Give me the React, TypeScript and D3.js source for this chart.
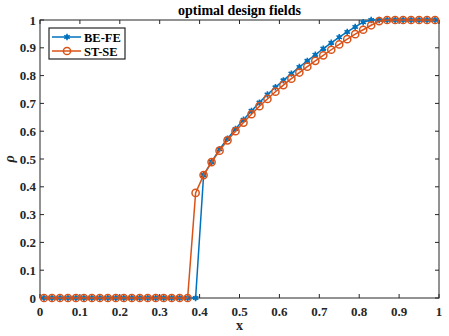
import * as d3 from "d3";

const xValues = [
  0.01, 0.03, 0.05, 0.07, 0.09, 0.11, 0.13, 0.15, 0.17, 0.19,
  0.21, 0.23, 0.25, 0.27, 0.29, 0.31, 0.33, 0.35, 0.37, 0.39,
  0.41, 0.43, 0.45, 0.47, 0.49, 0.51, 0.53, 0.55, 0.57, 0.59,
  0.61, 0.63, 0.65, 0.67, 0.69, 0.71, 0.73, 0.75, 0.77, 0.79,
  0.81, 0.83, 0.85, 0.87, 0.89, 0.91, 0.93, 0.95, 0.97, 0.99,
];

const beFe = [
  0, 0, 0, 0, 0, 0, 0, 0, 0, 0,
  0, 0, 0, 0, 0, 0, 0, 0, 0, 0,
  0.442, 0.49, 0.535, 0.573, 0.608, 0.641, 0.673, 0.703, 0.732, 0.758,
  0.783, 0.807, 0.831, 0.853, 0.875, 0.897, 0.918, 0.938, 0.957, 0.975,
  0.992, 1, 1, 1, 1, 1, 1, 1, 1, 1,
];

const stSe = [
  0, 0, 0, 0, 0, 0, 0, 0, 0, 0,
  0, 0, 0, 0, 0, 0, 0, 0, 0, 0.378,
  0.442, 0.489, 0.53, 0.567, 0.6, 0.631, 0.661, 0.69, 0.716, 0.742,
  0.766, 0.789, 0.811, 0.832, 0.853, 0.873, 0.893, 0.912, 0.931, 0.949,
  0.965, 0.981, 0.996, 1, 1, 1, 1, 1, 1, 1,
];

const xTicks = [0, 0.1, 0.2, 0.3, 0.4, 0.5, 0.6, 0.7, 0.8, 0.9, 1];
const yTicks = [0, 0.1, 0.2, 0.3, 0.4, 0.5, 0.6, 0.7, 0.8, 0.9, 1];

const series = [
  { name: "BE-FE", values: beFe, color: "#0072BD", marker: "star" },
  { name: "ST-SE", values: stSe, color: "#D95319", marker: "circle" },
];

const font = "'Liberation Serif', 'Times New Roman', serif";
const axisColor = "#262626";

function Marker({ kind, x, y, color }: { kind: string; x: number; y: number; color: string }) {
  if (kind === "circle") {
    return <circle cx={x} cy={y} r={3.6} fill="none" stroke={color} strokeWidth={1.5} />;
  }
  const path = d3.symbol(d3.symbolAsterisk, 28)();
  return (
    <g transform={`translate(${x},${y})`}>
      <path d={path ?? ""} stroke={color} strokeWidth={1.6} fill="none" />
      <circle r={2} fill={color} />
    </g>
  );
}

export default function App() {
  const width = 449;
  const height = 336;
  const margin = { top: 20, right: 10, bottom: 38, left: 40 };
  const innerWidth = width - margin.left - margin.right;
  const innerHeight = height - margin.top - margin.bottom;

  const x = d3.scaleLinear().domain([0, 1]).range([0, innerWidth]);
  const y = d3.scaleLinear().domain([0, 1]).range([innerHeight, 0]);
  const line = d3
    .line<number>()
    .x((_, i) => x(xValues[i]))
    .y((d) => y(d));

  const tickLen = 4;

  return (
    <svg
      width={width}
      height={height}
      style={{ position: "absolute", left: 0, top: 0, background: "#fff" }}
      fontFamily={font}
    >
      <g transform={`translate(${margin.left},${margin.top})`}>
        {/* axis box and inward ticks */}
        <rect x={0} y={0} width={innerWidth} height={innerHeight} fill="none" stroke={axisColor} strokeWidth={1} />
        {xTicks.map((t) => (
          <g key={`x-${t}`}>
            <line x1={x(t)} x2={x(t)} y1={innerHeight} y2={innerHeight - tickLen} stroke={axisColor} />
            <line x1={x(t)} x2={x(t)} y1={0} y2={tickLen} stroke={axisColor} />
            <text
              x={x(t)}
              y={innerHeight + 18}
              textAnchor="middle"
              fontSize={13}
              fontWeight="bold"
              fill={axisColor}
            >
              {d3.format("")(t)}
            </text>
          </g>
        ))}
        {yTicks.map((t) => (
          <g key={`y-${t}`}>
            <line x1={0} x2={tickLen} y1={y(t)} y2={y(t)} stroke={axisColor} />
            <line x1={innerWidth} x2={innerWidth - tickLen} y1={y(t)} y2={y(t)} stroke={axisColor} />
            <text x={-4} y={y(t) + 4.5} textAnchor="end" fontSize={13} fontWeight="bold" fill={axisColor}>
              {d3.format("")(t)}
            </text>
          </g>
        ))}

        {series.map((s) => (
          <g key={s.name}>
            <path d={line(s.values) ?? ""} fill="none" stroke={s.color} strokeWidth={1.5} />
            {s.values.map((v, i) => (
              <Marker key={i} kind={s.marker} x={x(xValues[i])} y={y(v)} color={s.color} />
            ))}
          </g>
        ))}

        {/* legend */}
        <g transform="translate(9,8)">
          <rect x={0} y={0} width={76} height={31} fill="#fff" stroke={axisColor} strokeWidth={1.2} />
          {series.map((s, i) => (
            <g key={s.name} transform={`translate(0,${9 + i * 14})`}>
              <line x1={3} x2={32} y1={0} y2={0} stroke={s.color} strokeWidth={1.5} />
              <Marker kind={s.marker} x={18} y={0} color={s.color} />
              <text x={35} y={4.5} fontSize={12.5} fontWeight="bold" fill="#000">
                {s.name}
              </text>
            </g>
          ))}
        </g>

        <text x={innerWidth / 2} y={-5} textAnchor="middle" fontSize={14} fontWeight="bold" fill="#000">
          optimal design fields
        </text>
        <text x={innerWidth / 2} y={innerHeight + 32} textAnchor="middle" fontSize={14} fontWeight="bold" fill={axisColor}>
          x
        </text>
        <text
          transform={`translate(${-26},${innerHeight / 2}) rotate(-90)`}
          textAnchor="middle"
          fontSize={14}
          fontWeight="bold"
          fontStyle="italic"
          fill={axisColor}
        >
          ρ
        </text>
      </g>
    </svg>
  );
}
